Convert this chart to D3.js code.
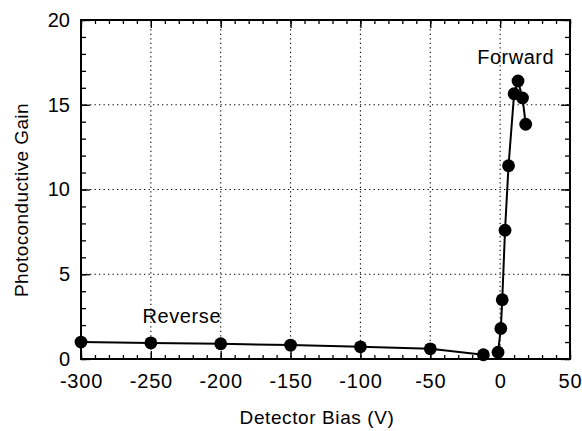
<!DOCTYPE html>
<html>
<head>
<meta charset="utf-8">
<script src="https://cdn.jsdelivr.net/npm/d3@7"></script>
<style>
  body { margin: 0; background: #fff; }
  text { font-family: "Liberation Sans", Arial, sans-serif; fill: #000; }
</style>
</head>
<body>
<svg id="main" width="582" height="431"></svg>
<script>
const width = 582
const height = 431
const margin = {left: 81, right: 12, top: 20, bottom: 72}
const font = '"Liberation Sans", Arial, sans-serif'

// reverse bias branch
const reverseBias = [-300, -250, -200, -150, -100, -50, -12]
const reverseGain = [1.0, 0.95, 0.9, 0.82, 0.72, 0.6, 0.25]

// forward bias branch
const forwardBias = [-1.5, 0.5, 1.5, 3.5, 6, 10, 12.8, 16, 18.3]
const forwardGain = [0.4, 1.8, 3.5, 7.6, 11.4, 15.65, 16.4, 15.4, 13.85]

const xTicks = [-300, -250, -200, -150, -100, -50, 0, 50]
const yTicks = [0, 5, 10, 15, 20]
const xGrid = [-250, -200, -150, -100, -50, 0]
const yGrid = [5, 10, 15]

const svg = d3.select('#main')

const x = d3.scaleLinear().domain([-300, 50]).range([margin.left, width - margin.right])
const y = d3.scaleLinear().domain([0, 20]).range([height - margin.bottom, margin.top])

const xMinor = d3.range(-300, 51, 10)
const yMinor = d3.range(0, 21, 1)

// dotted grid
const grid = svg.append('g').attr('stroke', '#000').attr('stroke-width', 1.1).attr('stroke-dasharray', '1.3,3.2')
xGrid.forEach(v => grid.append('line').attr('x1', x(v)).attr('x2', x(v)).attr('y1', y(0)).attr('y2', y(20)))
yGrid.forEach(v => grid.append('line').attr('x1', x(-300)).attr('x2', x(50)).attr('y1', y(v)).attr('y2', y(v)))

// inward ticks on all four sides
const tickStyle = g => g.call(g => g.select('.domain').remove())
  .call(g => g.selectAll('line').attr('stroke', '#000').attr('stroke-width', 1.3))
  .call(g => g.selectAll('text').remove())

svg.append('g').attr('transform', `translate(0,${y(0)})`)
  .call(d3.axisBottom(x).tickValues(xMinor).tickSize(-4)).call(tickStyle)
svg.append('g').attr('transform', `translate(0,${y(0)})`)
  .call(d3.axisBottom(x).tickValues(xTicks).tickSize(-8)).call(tickStyle)
svg.append('g').attr('transform', `translate(0,${y(20)})`)
  .call(d3.axisTop(x).tickValues(xMinor).tickSize(-4)).call(tickStyle)
svg.append('g').attr('transform', `translate(0,${y(20)})`)
  .call(d3.axisTop(x).tickValues(xTicks).tickSize(-8)).call(tickStyle)
svg.append('g').attr('transform', `translate(${x(-300)},0)`)
  .call(d3.axisLeft(y).tickValues(yMinor).tickSize(-5)).call(tickStyle)
svg.append('g').attr('transform', `translate(${x(-300)},0)`)
  .call(d3.axisLeft(y).tickValues(yTicks).tickSize(-9)).call(tickStyle)
svg.append('g').attr('transform', `translate(${x(50)},0)`)
  .call(d3.axisRight(y).tickValues(yMinor).tickSize(-5)).call(tickStyle)
svg.append('g').attr('transform', `translate(${x(50)},0)`)
  .call(d3.axisRight(y).tickValues(yTicks).tickSize(-9)).call(tickStyle)

// frame
svg.append('rect')
  .attr('x', x(-300)).attr('y', y(20))
  .attr('width', x(50) - x(-300)).attr('height', y(0) - y(20))
  .attr('fill', 'none').attr('stroke', '#000').attr('stroke-width', 2)

// tick labels (plain hyphen minus like the original)
const xLab = svg.append('g').attr('transform', `translate(0,${y(0)})`)
  .call(d3.axisBottom(x).tickValues(xTicks).tickSize(0).tickPadding(15).tickFormat(d => String(d)))
xLab.select('.domain').remove()
xLab.selectAll('text').attr('font-size', 20).attr('letter-spacing', 0.8).attr('font-family', font).attr('fill', '#000')

const yLab = svg.append('g').attr('transform', `translate(${x(-300)},0)`)
  .call(d3.axisLeft(y).tickValues(yTicks).tickSize(0).tickPadding(11).tickFormat(d => String(d)))
yLab.select('.domain').remove()
yLab.selectAll('text').attr('font-size', 20).attr('font-family', font).attr('fill', '#000')

// axis titles
svg.append('text').attr('x', 317).attr('y', 424)
  .attr('text-anchor', 'middle').attr('font-size', 19).attr('letter-spacing', 0.6).text('Detector Bias (V)')
svg.append('text').attr('transform', `translate(28,200) rotate(-90)`)
  .attr('text-anchor', 'middle').attr('font-size', 19).attr('letter-spacing', 0.4).text('Photoconductive Gain')

// data
const line = d3.line().x(d => x(d[0])).y(d => y(d[1]))
const reverse = reverseBias.map((b, i) => [b, reverseGain[i]])
const forward = forwardBias.map((b, i) => [b, forwardGain[i]])

;[reverse, forward].forEach(series => {
  svg.append('path').datum(series).attr('d', line)
    .attr('fill', 'none').attr('stroke', '#000').attr('stroke-width', 2)
  svg.append('g').selectAll('circle').data(series).join('circle')
    .attr('cx', d => x(d[0])).attr('cy', d => y(d[1])).attr('r', 6.4).attr('fill', '#000')
})

// annotations
svg.append('text').attr('x', x(-256)).attr('y', y(2.1)).attr('font-size', 20).attr('letter-spacing', 0.6).text('Reverse')
svg.append('text').attr('x', x(-16.4)).attr('y', y(17.4)).attr('font-size', 20).attr('letter-spacing', 0.5).text('Forward')
</script>
</body>
</html>
